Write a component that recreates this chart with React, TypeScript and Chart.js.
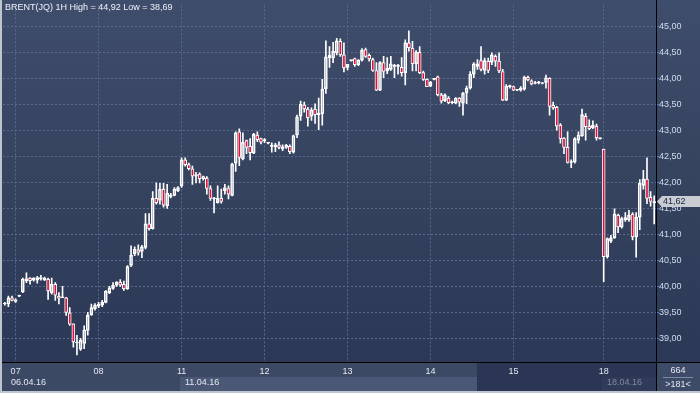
import React, { useEffect, useRef } from 'react';
import Chart from 'chart.js/auto';

const OPEN = [39.67,39.67,39.79,39.72,39.82,39.90,40.12,40.17,40.13,40.13,40.15,40.14,40.15,39.89,40.05,39.82,39.79,39.79,39.50,39.29,38.92,38.80,38.91,39.16,39.46,39.58,39.63,39.65,39.70,39.89,39.97,40.03,40.09,40.05,39.96,40.41,40.64,40.71,40.68,40.76,41.21,41.12,41.70,41.66,41.88,41.56,41.74,41.76,41.85,41.94,42.44,42.35,42.27,42.13,42.17,42.08,42.09,41.89,41.69,41.62,41.70,41.85,41.89,41.76,42.38,42.98,42.46,42.81,42.70,42.57,42.92,42.85,42.81,42.76,42.70,42.69,42.73,42.65,42.68,42.70,42.59,42.92,43.28,43.50,43.42,43.28,43.42,43.31,43.33,43.81,44.40,44.40,44.50,44.72,44.46,44.22,44.35,44.39,44.27,44.36,44.56,44.45,44.37,44.16,43.78,44.31,44.15,44.18,44.24,44.24,44.22,44.12,44.69,44.59,44.29,44.51,44.12,43.99,43.86,43.99,44.04,43.69,43.58,43.63,43.54,43.53,43.63,43.53,43.73,43.82,44.09,44.24,44.35,44.16,44.34,44.32,44.43,44.34,44.14,43.59,43.85,43.85,43.78,43.78,43.80,44.03,43.96,43.91,43.92,43.91,43.93,44.01,43.49,43.45,43.11,42.86,42.68,42.39,42.40,42.82,42.90,43.28,43.09,43.06,43.09,42.85,42.65,40.58,40.88,40.94,41.38,41.15,41.29,41.29,41.40,40.96,41.34,41.95,42.07,41.72,41.62];
const HIGH = [39.70,39.82,39.82,39.77,39.83,40.17,40.27,40.18,40.18,40.20,40.22,40.19,40.17,40.17,40.08,39.89,40.01,39.80,39.60,39.29,39.07,39.01,39.25,39.51,39.67,39.68,39.70,39.74,39.93,40.01,40.08,40.10,40.14,40.11,40.41,40.79,40.77,40.81,40.80,41.41,41.41,41.83,42.00,41.99,41.99,41.97,41.80,41.91,41.93,42.48,42.48,42.38,42.32,42.20,42.19,42.13,42.12,41.94,41.72,41.94,41.88,41.97,41.94,42.38,42.98,43.04,42.96,42.82,42.85,42.95,42.98,42.86,42.85,42.77,42.77,42.76,42.79,42.73,42.74,42.73,42.92,43.30,43.57,43.55,43.45,43.44,43.52,43.63,43.99,44.73,44.62,44.70,44.78,44.77,44.69,44.28,44.36,44.40,44.37,44.58,44.59,44.48,44.40,44.31,44.33,44.43,44.41,44.43,44.28,44.28,44.41,44.75,44.92,44.72,44.54,44.62,44.15,44.00,43.95,44.00,44.05,43.72,43.71,43.66,43.57,43.64,43.64,43.74,43.86,44.14,44.31,44.37,44.62,44.40,44.40,44.50,44.46,44.50,44.18,43.89,43.88,43.86,43.79,43.85,44.05,44.05,43.98,43.95,43.95,43.92,44.07,44.02,43.55,43.47,43.14,42.87,42.98,42.44,42.87,42.98,43.42,43.33,43.21,43.19,43.13,42.86,42.65,40.94,40.99,41.50,41.40,41.34,41.43,41.47,41.43,41.43,42.06,42.24,42.48,41.83,41.75];
const LOW = [39.65,39.62,39.73,39.70,39.81,39.89,40.08,40.05,40.11,40.07,40.13,40.12,39.76,39.86,39.74,39.67,39.79,39.45,39.26,38.84,38.69,38.78,38.81,39.07,39.45,39.55,39.60,39.62,39.69,39.87,39.95,40.01,40.01,39.93,39.95,40.39,40.60,40.61,40.56,40.73,41.09,41.11,41.59,41.59,41.53,41.51,41.71,41.75,41.83,41.91,42.32,42.25,41.97,42.00,42.00,42.05,41.78,41.66,41.42,41.61,41.61,41.78,41.69,41.75,42.22,42.33,42.44,42.56,42.44,42.56,42.79,42.75,42.77,42.75,42.59,42.60,42.65,42.62,42.66,42.56,42.57,42.87,43.20,43.36,43.09,43.20,43.14,43.02,43.11,43.72,44.22,44.31,44.46,44.43,44.13,44.17,44.34,44.24,44.25,44.34,44.41,44.34,44.14,43.77,43.77,44.02,44.10,44.16,44.02,44.09,44.05,43.88,44.53,44.15,44.15,44.10,43.97,43.85,43.85,43.98,43.67,43.53,43.56,43.52,43.52,43.52,43.47,43.30,43.52,43.80,44.02,44.18,44.15,44.09,44.12,44.27,44.24,44.12,43.58,43.58,43.82,43.77,43.77,43.76,43.78,43.96,43.88,43.90,43.90,43.90,43.82,43.30,43.41,43.01,42.76,42.56,42.38,42.29,42.38,42.76,42.89,42.82,43.02,43.04,42.82,42.84,40.10,40.55,40.85,40.93,41.04,41.13,41.26,41.26,40.90,40.57,41.10,41.88,41.60,41.55,41.21];
const CLOSE = [39.68,39.79,39.74,39.75,39.82,40.15,40.16,40.12,40.17,40.18,40.18,40.17,39.92,40.05,39.84,39.78,39.80,39.51,39.28,38.94,38.94,38.97,39.17,39.45,39.60,39.65,39.67,39.70,39.92,39.98,40.03,40.09,40.03,39.96,40.39,40.61,40.72,40.66,40.77,41.21,41.12,41.70,41.62,41.88,41.57,41.80,41.76,41.88,41.91,42.44,42.35,42.27,42.13,42.16,42.08,42.12,41.89,41.70,41.69,41.70,41.64,41.91,41.78,42.36,42.96,42.49,42.78,42.68,42.58,42.93,42.83,42.78,42.81,42.76,42.70,42.73,42.68,42.69,42.72,42.60,42.91,43.27,43.51,43.42,43.25,43.40,43.31,43.34,43.80,44.42,44.45,44.53,44.73,44.46,44.21,44.28,44.35,44.27,44.36,44.55,44.43,44.38,44.16,43.78,44.31,44.14,44.20,44.29,44.24,44.24,44.12,44.69,44.60,44.29,44.51,44.12,43.99,43.85,43.93,43.99,43.69,43.57,43.69,43.54,43.54,43.63,43.55,43.72,43.82,44.09,44.29,44.29,44.18,44.35,44.16,44.46,44.34,44.15,43.59,43.86,43.85,43.78,43.78,43.82,44.03,43.98,43.90,43.91,43.92,43.91,44.02,43.47,43.44,43.09,42.85,42.68,42.39,42.39,42.85,42.92,43.31,43.08,43.04,43.11,42.87,42.85,40.58,40.93,40.94,41.40,41.15,41.31,41.33,41.38,40.96,41.34,41.99,42.07,41.70,41.64,41.62];

const DAY_START = [3, 26, 49, 72, 95, 118, 141, 166];
const DAY_LABELS = ['07', '08', '11', '12', '13', '14', '15', '18'];
const WEEK_LABELS = ['06.04.16', '11.04.16', '18.04.16'];
const Y_TICKS = [39, 39.5, 40, 40.5, 41, 41.5, 42, 42.5, 43, 43.5, 44, 44.5, 45];
const Y_MIN = 38.555;
const Y_MAX = 45.411;
const TITLE = 'BRENT(JQ) 1H High = 44,92 Low = 38,69';
const LAST_PRICE = 41.62;
const TOTAL_BARS = '664';
const VISIBLE_BARS = '>181<';

const FONT = '"Liberation Sans", Arial, sans-serif';
const WHITE = '#ffffff';
const RED = '#dc143c';
const GRID = '#5a6a8c';

const fmt = (v: number) => v.toFixed(2).replace('.', ',');

export default function App() {
  const ref = useRef<HTMLCanvasElement>(null);

  useEffect(() => {
    const canvas = ref.current;
    if (!canvas) return;
    const labels = CLOSE.map((_, i) => String(i));
    const bodyLo = OPEN.map((o, i) => Math.min(o, CLOSE[i]));
    const bodyHi = OPEN.map((o, i) => Math.max(o, CLOSE[i]));

    const edgeX = (chart: any, i: number) => {
      const xs = chart.scales.x;
      return Math.round(xs.getPixelForValue(i) - xs.width / CLOSE.length / 2);
    };

    const bgPlugin = {
      id: 'bg',
      beforeDraw(chart: any) {
        const { ctx } = chart;
        const a = chart.chartArea;
        ctx.save();
        ctx.fillStyle = '#bfc5cf';
        ctx.fillRect(0, 0, 700, 393);
        const g = ctx.createLinearGradient(0, 0, 0, a.bottom);
        g.addColorStop(0, '#3f4d6c');
        g.addColorStop(0.5, '#35435f');
        g.addColorStop(1, '#2b3856');
        ctx.fillStyle = g;
        ctx.fillRect(2, 0, 698, a.bottom);
        ctx.fillStyle = '#3b4965';
        ctx.fillRect(2, a.bottom, 698, 391 - a.bottom);
        const w2 = edgeX(chart, DAY_START[2]);
        const w3 = edgeX(chart, DAY_START[7]);
        ctx.fillStyle = '#4a5875';
        ctx.fillRect(w2, 377, 477 - w2, 14);
        ctx.fillStyle = '#2a3653';
        ctx.fillRect(477, a.bottom + 1, a.right - 477, 391 - a.bottom - 1);
        ctx.fillStyle = '#2f3b59';
        ctx.fillRect(w3, 377, a.right - w3, 14);
        ctx.fillStyle = '#3d4b68';
        ctx.fillRect(a.right, a.bottom, 700 - a.right, 391 - a.bottom);
        ctx.restore();
      },
      beforeDatasetsDraw(chart: any) {
        const { ctx } = chart;
        const a = chart.chartArea;
        ctx.save();
        ctx.strokeStyle = GRID;
        ctx.lineWidth = 1;
        ctx.setLineDash([2, 2]);
        DAY_START.forEach((i) => {
          const x = edgeX(chart, i) + 1.5;
          ctx.beginPath();
          ctx.moveTo(x, a.top);
          ctx.lineTo(x, a.bottom);
          ctx.stroke();
        });
        ctx.restore();
      },
      afterDraw(chart: any) {
        const { ctx } = chart;
        const a = chart.chartArea;
        const ys = chart.scales.y;
        ctx.save();
        ctx.font = `9px ${FONT}`;
        ctx.textBaseline = 'middle';
        ctx.textAlign = 'left';
        ctx.fillStyle = '#eef1f7';
        ctx.fillText(TITLE, 5, 8);
        ctx.fillStyle = '#e4e8f0';
        ctx.fillText(WEEK_LABELS[0], a.left + 8, 383);
        ctx.fillText(WEEK_LABELS[1], edgeX(chart, DAY_START[2]) + 5, 383);
        ctx.fillStyle = '#7f8ba4';
        ctx.fillText(WEEK_LABELS[2], edgeX(chart, DAY_START[7]) + 5, 383);
        ctx.fillStyle = '#000000';
        ctx.fillRect(2, Math.round(a.bottom), 698, 1);
        ctx.fillRect(Math.round(a.right), 0, 1, 391);
        ctx.textAlign = 'center';
        ctx.fillStyle = '#e4e8f0';
        const cx = (a.right + 700) / 2;
        ctx.fillText(TOTAL_BARS, cx, 371);
        ctx.fillStyle = '#7d8aa6';
        ctx.fillRect(cx - 15, 377, 30, 1);
        ctx.fillStyle = '#e4e8f0';
        ctx.fillText(VISIBLE_BARS, cx, 385);
        const py = Math.round(ys.getPixelForValue(LAST_PRICE));
        const left = Math.round(a.right) + 1;
        ctx.fillStyle = '#c9ccd3';
        ctx.beginPath();
        ctx.moveTo(left, py - 1.5);
        ctx.lineTo(left + 5, py - 7);
        ctx.lineTo(700, py - 7);
        ctx.lineTo(700, py + 4);
        ctx.lineTo(left + 5, py + 4);
        ctx.closePath();
        ctx.fill();
        ctx.textAlign = 'left';
        ctx.fillStyle = '#1c2540';
        ctx.fillText(fmt(LAST_PRICE), left + 6, py - 1);
        ctx.fillStyle = '#bfc5cf';
        ctx.fillRect(0, 391, 700, 2);
        ctx.fillRect(0, 0, 2, 393);
        ctx.restore();
      },
    };

    const chart = new Chart(canvas, {
      type: 'bar',
      data: {
        labels,
        datasets: [
          {
            label: 'upper',
            data: HIGH.map((h, i) => [bodyHi[i], h]),
            backgroundColor: WHITE,
            barThickness: 1,
            grouped: false,
          } as any,
          {
            label: 'lower',
            data: LOW.map((l, i) => [l, bodyLo[i]]),
            backgroundColor: WHITE,
            barThickness: 1,
            grouped: false,
          } as any,
          {
            label: 'body',
            data: bodyLo.map((lo, i) => [lo, bodyHi[i]]),
            backgroundColor: CLOSE.map((c, i) => (c < OPEN[i] ? RED : 'rgba(0,0,0,0)')),
            borderColor: WHITE,
            borderWidth: 1,
            borderSkipped: false,
            barThickness: 3,
            minBarLength: 1,
            grouped: false,
          } as any,
        ],
      },
      options: {
        animation: false,
        responsive: false,
        devicePixelRatio: 1,
        layout: { padding: { left: 3, top: 0, right: 0, bottom: 0 } },
        plugins: { legend: { display: false }, tooltip: { enabled: false } },
        scales: {
          x: {
            type: 'category',
            offset: true,
            grid: { display: false, drawTicks: false },
            border: { display: false },
            ticks: {
              autoSkip: false,
              maxRotation: 0,
              minRotation: 0,
              padding: 4,
              font: { size: 9, family: FONT },
              color: (c: any) => (c.index >= DAY_START[6] ? '#8591aa' : '#e4e8f0'),
              callback: (_v: any, i: number) => {
                const k = DAY_START.indexOf(i);
                return k >= 0 ? DAY_LABELS[k] : null;
              },
            },
            afterFit: (s: any) => {
              s.height = 31;
            },
          },
          y: {
            position: 'right',
            min: Y_MIN,
            max: Y_MAX,
            afterBuildTicks: (s: any) => {
              s.ticks = Y_TICKS.map((v) => ({ value: v }));
            },
            grid: {
              color: GRID,
              drawTicks: true,
              tickLength: 3,
              tickColor: '#3f7fdc',
              tickBorderDash: [],
            },
            border: { display: false, dash: [2, 2] },
            ticks: {
              padding: 0,
              color: '#d2dcef',
              font: { size: 9, family: FONT },
              callback: (v: any) => fmt(Number(v)),
            },
            afterFit: (s: any) => {
              s.width = 44;
            },
          },
        },
      } as any,
      plugins: [bgPlugin],
    });
    return () => chart.destroy();
  }, []);

  return (
    <div style={{ position: 'fixed', left: 0, top: 0, width: 700, height: 393 }}>
      <canvas ref={ref} width={700} height={393} style={{ display: 'block', width: 700, height: 393 }} />
    </div>
  );
}
